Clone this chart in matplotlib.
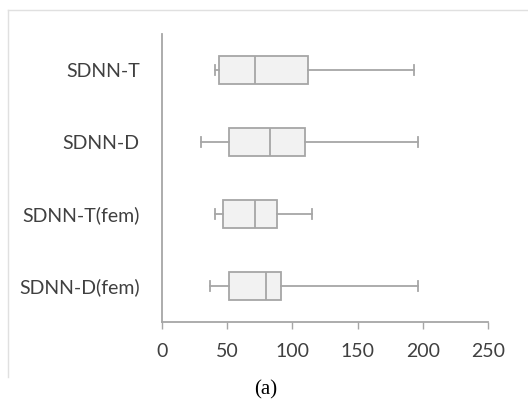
import matplotlib
matplotlib.use('Agg')
import matplotlib.pyplot as plt
from matplotlib.lines import Line2D

# data
labels = ['SDNN-T', 'SDNN-D', 'SDNN-T(fem)', 'SDNN-D(fem)']
whislo = [41, 30, 41, 37]
q1 = [44, 51, 46.5, 51]
med = [71.5, 83, 71, 80]
q3 = [112, 110, 88, 91]
whishi = [193, 196, 115, 196]
xticks = [0, 50, 100, 150, 200, 250]

grey = '#a6a6a6'
txt = '#404040'

fig = plt.figure(figsize=(5.28, 4.05), dpi=100)
ax = fig.add_axes([162/528, 1-322/405, 326/528, 288/405])

stats = []
for i in range(len(labels)):
    stats.append(dict(label=labels[i], whislo=whislo[i], q1=q1[i], med=med[i],
                      q3=q3[i], whishi=whishi[i], fliers=[]))

pos = list(range(len(labels), 0, -1))  # first one on top
ax.bxp(stats, positions=pos, vert=False, widths=0.4, capwidths=0.14,
       patch_artist=True, showfliers=False,
       boxprops=dict(facecolor='#f2f2f2', edgecolor=grey, linewidth=1.3),
       medianprops=dict(color=grey, linewidth=1.3),
       whiskerprops=dict(color=grey, linewidth=1.3),
       capprops=dict(color=grey, linewidth=1.3))

ax.set_xlim(0, 250)
ax.set_ylim(0.5, 4.5)
ax.set_xticks(xticks)
ax.set_yticks(pos)
ax.set_yticklabels(labels)

for s in ['top', 'right']:
    ax.spines[s].set_visible(False)
ax.spines['left'].set_color(grey)
ax.spines['bottom'].set_color(grey)
ax.spines['left'].set_linewidth(1.3)
ax.spines['bottom'].set_linewidth(1.3)
ax.tick_params(axis='x', direction='out', length=5, width=1, color=grey,
               labelsize=14, labelcolor=txt, pad=10)
ax.tick_params(axis='y', length=0, labelsize=14, labelcolor=txt, pad=16)
for lab in ax.get_xticklabels() + ax.get_yticklabels():
    lab.set_family(['Lato', 'DejaVu Sans'])

# light frame lines (top and left only)
fig.add_artist(Line2D([8/528, 1], [1-10/405, 1-10/405], color='#e0e0e0', lw=1))
fig.add_artist(Line2D([8/528, 8/528], [1-10/405, 1-377/405], color='#e0e0e0', lw=1))

fig.text(266/528, 1-390/405, '(a)', ha='center', va='center',
         fontsize=15, family='Liberation Serif', color='black')

fig.savefig('out.png', dpi=100)
